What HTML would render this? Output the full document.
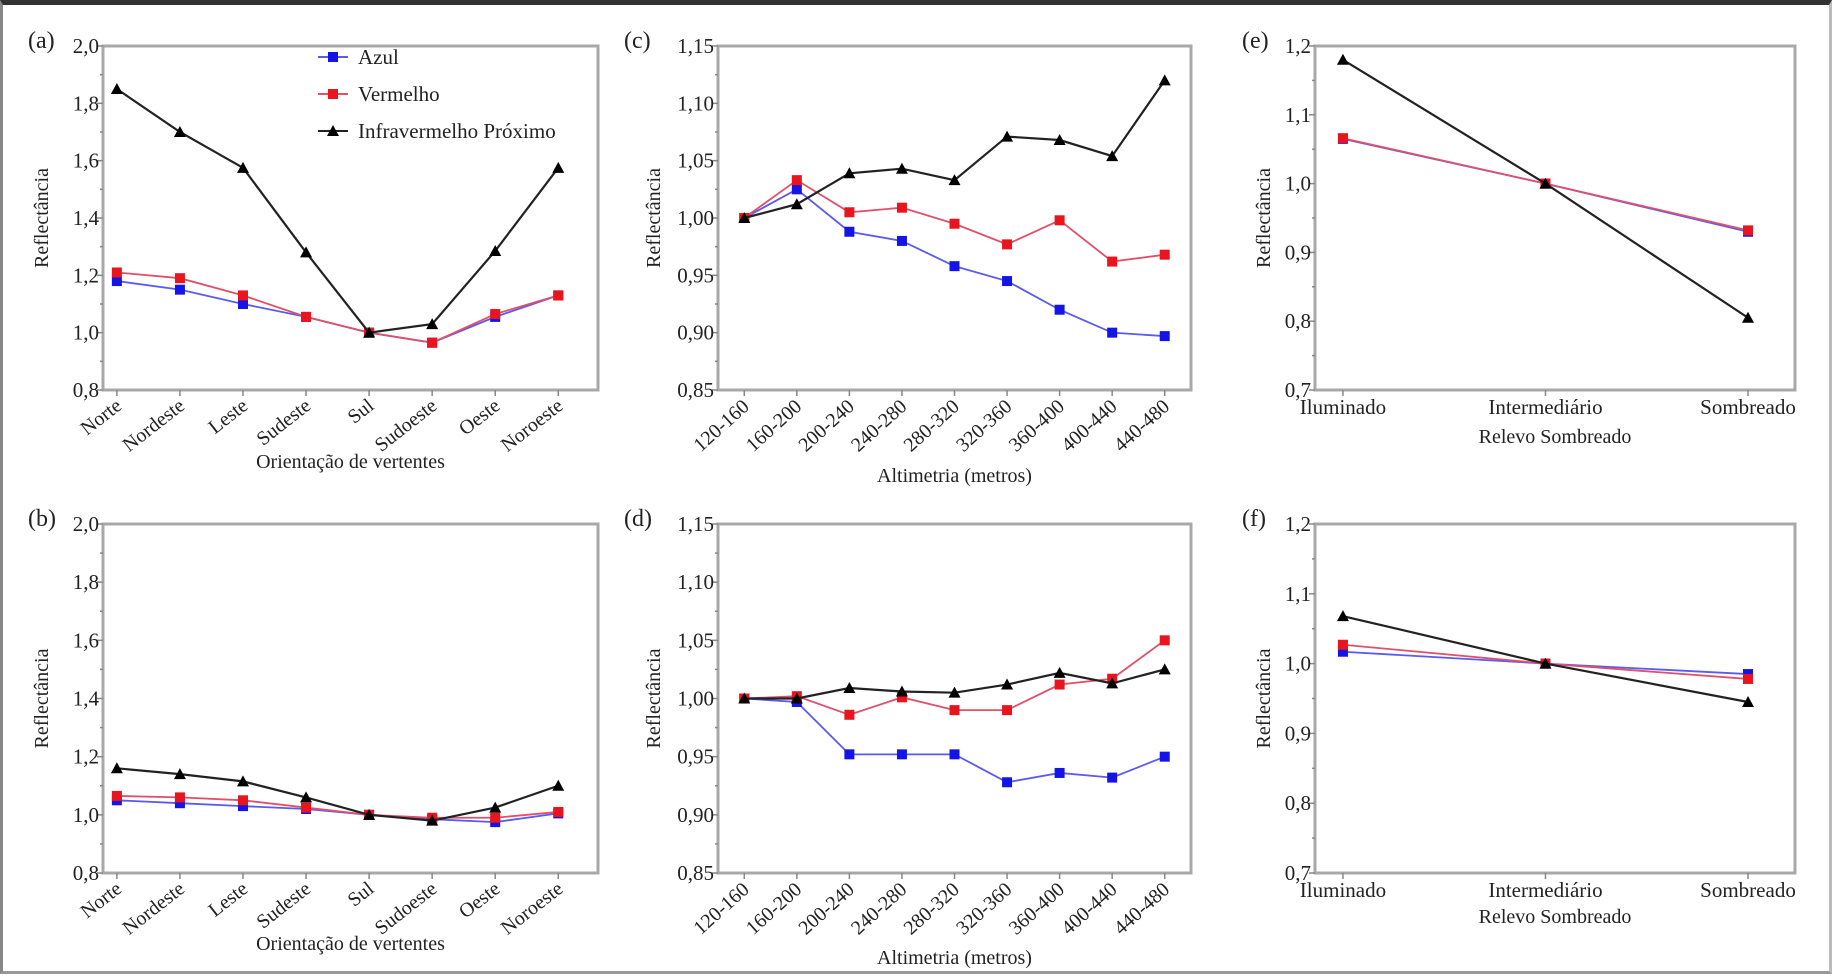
<!DOCTYPE html>
<html><head><meta charset="utf-8">
<style>
html,body{margin:0;padding:0;background:#fff;}
#wrap{position:relative;width:1832px;height:980px;overflow:hidden;background:#fff;}
#frame{position:absolute;left:0;top:0;width:1826px;height:966px;border-top:5px solid #333;border-left:3px solid #888;border-bottom:3px solid #999;border-right:3px solid #bbb;}
svg text{font-family:"Liberation Serif",serif;fill:#222;}
</style></head>
<body>
<div id="wrap">
<div id="frame"></div>
<svg id="chart" width="1832" height="980" style="position:absolute;left:0;top:0"></svg>
</div>
<script>
// ---- data ----
const catsOrient = ["Norte","Nordeste","Leste","Sudeste","Sul","Sudoeste","Oeste","Noroeste"];
const catsAlt = ["120-160","160-200","200-240","240-280","280-320","320-360","360-400","400-440","440-480"];
const catsRelevo = ["Iluminado","Intermediário","Sombreado"];

const azulA = [1.18,1.15,1.10,1.055,1.00,0.965,1.055,1.13];
const vermA = [1.21,1.19,1.13,1.055,1.00,0.965,1.065,1.13];
const nirA  = [1.85,1.70,1.575,1.28,1.00,1.03,1.285,1.575];

const azulB = [1.05,1.04,1.03,1.02,1.00,0.985,0.975,1.005];
const vermB = [1.065,1.06,1.05,1.025,1.00,0.99,0.99,1.01];
const nirB  = [1.16,1.14,1.115,1.06,1.00,0.98,1.025,1.10];

const azulC = [1.00,1.025,0.988,0.98,0.958,0.945,0.92,0.90,0.897];
const vermC = [1.00,1.033,1.005,1.009,0.995,0.977,0.998,0.962,0.968];
const nirC  = [1.00,1.012,1.039,1.043,1.033,1.071,1.068,1.054,1.12];

const azulD = [1.00,0.997,0.952,0.952,0.952,0.928,0.936,0.932,0.950];
const vermD = [1.00,1.002,0.986,1.001,0.990,0.990,1.012,1.017,1.050];
const nirD  = [1.00,1.000,1.009,1.006,1.005,1.012,1.022,1.013,1.025];

const azulE = [1.065,1.00,0.93];
const vermE = [1.066,1.00,0.932];
const nirE  = [1.18,1.00,0.805];

const azulF = [1.017,1.00,0.985];
const vermF = [1.027,1.00,0.978];
const nirF  = [1.068,1.00,0.945];

const ticksOrient = [0.8,1.0,1.2,1.4,1.6,1.8,2.0];
const ticksAlt = [0.85,0.90,0.95,1.00,1.05,1.10,1.15];
const ticksRelevo = [0.7,0.8,0.9,1.0,1.1,1.2];

const seriesNames = ["Azul","Vermelho","Infravermelho Próximo"];
const COLORS = ["#1414e6","#e8141e","#000"];
const LINECOL = ["#5a5af0","#e0506a","#222"];

const NS = "http://www.w3.org/2000/svg";
const svg = document.getElementById("chart");
function mk(tag, attrs, parent){
  const e = document.createElementNS(NS, tag);
  for (const k in attrs) e.setAttribute(k, attrs[k]);
  (parent||svg).appendChild(e);
  return e;
}
function fmt(v, dec){ return v.toFixed(dec).replace(".", ","); }

function marker(g, kind, x, y, color){
  let m;
  if (kind === 2){
    m = mk("polygon", {points:`${x},${y-6} ${x-6},${y+5} ${x+6},${y+5}`, fill:color}, g);
  } else {
    m = mk("rect", {x:x-5, y:y-5, width:10, height:10, fill:color}, g);
  }
  return m;
}

function panel(o){
  const g = mk("g", {});
  
  
  const n = o.cats.length;
  const sx = i => o.x0 + ((i+1) - o.xmin) / (o.xmax - o.xmin) * (o.x1 - o.x0);
  const ymin = o.ticks[0], ymax = o.ticks[o.ticks.length-1];
  const sy = v => o.y1 - (v - ymin) / (ymax - ymin) * (o.y1 - o.y0);

  const fr = mk("rect", {x:o.x0, y:o.y0, width:o.x1-o.x0, height:o.y1-o.y0, fill:"none", stroke:"#a8a8a8", "stroke-width":3}, g);
  
  

  for (let i=0;i<o.ticks.length;i++){
    const v = o.ticks[i], y = sy(v);
    mk("line", {x1:o.x0-6, x2:o.x0, y1:y, y2:y, stroke:"#888", "stroke-width":1.5}, g);
    const t = mk("text", {x:o.x0-4, y:y+7, "text-anchor":"end", "font-size":21}, g);
    t.textContent = fmt(v, o.dec);
    
    
    if (i < o.ticks.length-1){
      const ym = sy((v + o.ticks[i+1])/2);
      mk("line", {x1:o.x0-3, x2:o.x0, y1:ym, y2:ym, stroke:"#888", "stroke-width":1.5}, g);
    }
  }
  for (let i=0;i<n;i++){
    const x = sx(i);
    mk("line", {x1:x, x2:x, y1:o.y1, y2:o.y1+6, stroke:"#888", "stroke-width":1.5}, g);
    let t;
    if (o.rot){
      const lx = x+6, ly = o.y1+18;
      t = mk("text", {x:lx, y:ly, "text-anchor":"end", "font-size":20, transform:`rotate(${o.rot},${lx},${ly})`}, g);
    } else {
      t = mk("text", {x:x, y:o.y1+24, "text-anchor":"middle", "font-size":21}, g);
    }
    t.textContent = o.cats[i];
    
    
  }
  const yt = mk("text", {x:o.ytx, y:(o.y0+o.y1)/2, "text-anchor":"middle", "font-size":20, transform:`rotate(-90,${o.ytx},${(o.y0+o.y1)/2})`}, g);
  yt.textContent = "Reflectância";
  
  
  const xt = mk("text", {x:(o.x0+o.x1)/2, y:o.xty, "text-anchor":"middle", "font-size":20}, g);
  xt.textContent = o.xtitle;
  
  
  const pl = mk("text", {x:o.lx, y:o.y0+2, "font-size":24}, g);
  pl.textContent = o.label;
  
  

  for (let s=0;s<o.series.length;s++){
    const vals = o.series[s];
    const pts = vals.map((v,i)=>`${sx(i)},${sy(v)}`).join(" ");
    const pl2 = mk("polyline", {points:pts, fill:"none", stroke:LINECOL[s], "stroke-width":s===2?2.2:1.8}, g);
    
    
    for (let i=0;i<vals.length;i++){
      const m = marker(g, s, sx(i), sy(vals[i]), COLORS[s]);
      
      
    }
  }
  return g;
}

panel({name:"panel-a", label:"(a)", lx:28, x0:103, x1:598, y0:46, y1:390, xmin:0.78, xmax:8.63,
  cats:catsOrient, ticks:ticksOrient, dec:1, rot:-38, ytx:48, xty:468, xtitle:"Orientação de vertentes",
  series:[azulA, vermA, nirA]});
panel({name:"panel-b", label:"(b)", lx:28, x0:103, x1:598, y0:524, y1:873, xmin:0.78, xmax:8.63,
  cats:catsOrient, ticks:ticksOrient, dec:1, rot:-38, ytx:48, xty:950, xtitle:"Orientação de vertentes",
  series:[azulB, vermB, nirB]});
panel({name:"panel-c", label:"(c)", lx:624, x0:718, x1:1191, y0:46, y1:390, xmin:0.5, xmax:9.5,
  cats:catsAlt, ticks:ticksAlt, dec:2, rot:-42, ytx:660, xty:482, xtitle:"Altimetria (metros)",
  series:[azulC, vermC, nirC]});
panel({name:"panel-d", label:"(d)", lx:624, x0:718, x1:1191, y0:524, y1:873, xmin:0.5, xmax:9.5,
  cats:catsAlt, ticks:ticksAlt, dec:2, rot:-42, ytx:660, xty:964, xtitle:"Altimetria (metros)",
  series:[azulD, vermD, nirD]});
panel({name:"panel-e", label:"(e)", lx:1242, x0:1315, x1:1795, y0:46, y1:390, xmin:0.862, xmax:3.232,
  cats:catsRelevo, ticks:ticksRelevo, dec:1, rot:0, ytx:1270, xty:443, xtitle:"Relevo Sombreado",
  series:[azulE, vermE, nirE]});
panel({name:"panel-f", label:"(f)", lx:1242, x0:1315, x1:1795, y0:524, y1:873, xmin:0.862, xmax:3.232,
  cats:catsRelevo, ticks:ticksRelevo, dec:1, rot:0, ytx:1270, xty:923, xtitle:"Relevo Sombreado",
  series:[azulF, vermF, nirF]});

const lg = mk("g", {});


for (let s=0;s<3;s++){
  const y = 57 + s*37;
  mk("line", {x1:318, x2:348, y1:y, y2:y, stroke:LINECOL[s], "stroke-width":2}, lg);
  marker(lg, s, 333, y, COLORS[s]);
  const t = mk("text", {x:358, y:y+7, "font-size":21}, lg);
  t.textContent = seriesNames[s];
  
  
}
</script>
</body></html>
